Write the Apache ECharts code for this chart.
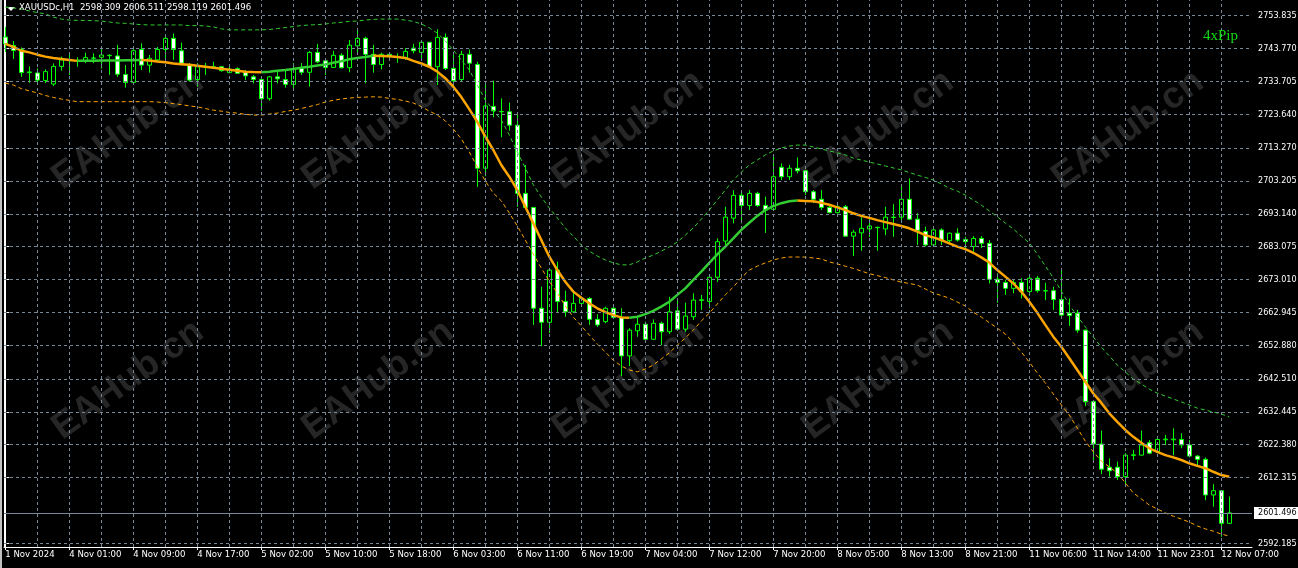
<!DOCTYPE html>
<html><head><meta charset="utf-8">
<script src="https://cdn.jsdelivr.net/npm/echarts@6/dist/echarts.min.js"></script>
<style>html,body{margin:0;padding:0;background:#000;}#c{width:1298px;height:568px;}</style>
</head><body><div id="c"></div>
<script>
const chartTitle = 'XAUUSDc,H1  2598.309 2606.511 2598.119 2601.496';
const brand = '4xPip';
const watermark = 'EAHub.cn';

// [open, high, low, close] per H1 bar
const candles = [
[2747.3,2750.4,2742.7,2745.2],[2744.7,2746.1,2740.6,2743.2],[2743.5,2744.1,2735.1,2736.4],[2736.4,2738.3,2733.3,2736.6],
[2736.3,2737.7,2733.1,2734.1],[2734.0,2737.4,2733.2,2736.7],[2732.9,2739.2,2732.3,2738.3],[2738.3,2741.3,2737.0,2740.3],
[2740.2,2742.1,2735.7,2740.3],[2740.0,2741.1,2738.2,2740.1],[2740.0,2742.5,2739.3,2741.0],[2740.8,2742.3,2739.3,2740.9],
[2741.1,2743.9,2737.7,2741.8],[2741.6,2742.0,2735.7,2741.7],[2741.5,2744.9,2735.1,2735.9],[2735.8,2738.7,2731.8,2733.4],
[2733.4,2743.9,2733.2,2743.1],[2743.5,2745.4,2737.2,2738.7],[2738.7,2741.8,2736.4,2740.8],[2740.3,2744.3,2739.7,2743.5],
[2743.5,2747.4,2740.5,2746.9],[2746.9,2748.4,2740.3,2743.5],[2743.1,2745.6,2738.7,2739.3],[2738.7,2739.3,2733.6,2734.1],
[2734.3,2739.3,2732.1,2738.2],[2738.2,2739.4,2735.7,2738.3],[2738.1,2739.7,2737.7,2738.2],[2738.2,2738.4,2736.7,2737.0],
[2736.4,2738.2,2736.2,2737.4],[2737.6,2738.0,2736.0,2736.2],[2736.4,2737.2,2734.1,2735.4],[2735.1,2735.7,2733.1,2734.3],
[2734.3,2734.5,2724.7,2728.4],[2728.4,2735.4,2727.8,2735.1],[2735.1,2737.0,2733.1,2734.5],[2734.3,2737.0,2731.8,2732.8],
[2732.8,2739.3,2731.4,2737.5],[2737.7,2739.3,2735.7,2736.5],[2736.5,2743.0,2732.1,2742.6],[2742.6,2745.2,2739.3,2739.7],
[2740.0,2740.5,2735.7,2738.0],[2738.0,2743.1,2737.8,2741.7],[2741.7,2742.3,2737.7,2737.9],[2737.9,2746.4,2736.5,2744.8],
[2744.6,2750.0,2742.3,2746.9],[2746.9,2747.4,2733.1,2742.0],[2742.0,2744.9,2736.4,2738.9],[2738.9,2742.5,2737.4,2742.0],
[2742.0,2742.3,2740.3,2741.3],[2741.2,2742.3,2739.4,2741.3],[2740.8,2743.9,2740.3,2742.9],[2743.9,2745.2,2742.3,2743.1],
[2742.6,2746.4,2740.3,2745.7],[2745.7,2745.8,2738.0,2738.2],[2738.2,2749.7,2732.6,2747.2],[2747.2,2748.4,2737.2,2737.7],
[2737.7,2742.3,2731.1,2733.9],[2734.3,2743.1,2733.8,2742.0],[2742.0,2743.5,2736.4,2739.3],[2738.9,2739.7,2701.4,2707.1],
[2707.1,2733.1,2704.7,2726.2],[2726.0,2733.9,2722.7,2724.7],[2724.4,2728.5,2716.6,2724.5],[2724.4,2727.2,2718.6,2720.3],
[2720.3,2723.4,2695.3,2699.4],[2699.4,2708.1,2695.0,2695.1],[2695.1,2695.2,2659.1,2664.2],[2664.2,2670.8,2652.6,2659.9],
[2659.9,2676.0,2656.7,2675.9],[2675.9,2678.5,2663.1,2666.3],[2666.3,2669.6,2661.6,2663.1],[2663.1,2669.8,2662.8,2665.7],
[2665.7,2667.6,2665.2,2667.2],[2667.2,2667.6,2659.1,2660.8],[2660.8,2662.4,2658.5,2659.1],[2660.1,2664.7,2659.6,2664.2],
[2664.2,2664.5,2661.1,2661.4],[2661.4,2664.2,2643.4,2649.6],[2649.6,2658.1,2646.5,2657.5],[2657.3,2661.6,2655.5,2659.3],
[2659.3,2660.1,2654.0,2654.7],[2654.7,2660.8,2654.5,2659.6],[2659.6,2660.1,2652.9,2657.0],[2657.0,2667.7,2656.3,2663.1],
[2663.4,2666.7,2657.3,2657.8],[2657.8,2665.9,2657.0,2661.8],[2661.6,2668.8,2660.6,2666.7],[2666.6,2668.3,2663.7,2666.8],
[2666.3,2674.1,2664.2,2673.7],[2673.7,2685.6,2672.3,2684.6],[2684.8,2695.3,2682.6,2692.1],[2691.8,2700.4,2690.2,2698.8],
[2698.8,2699.9,2690.2,2695.7],[2695.7,2700.4,2694.3,2699.4],[2699.4,2699.9,2695.3,2695.7],[2695.7,2698.4,2687.3,2694.3],
[2694.5,2710.6,2694.3,2704.5],[2707.4,2708.6,2703.5,2704.5],[2704.5,2708.1,2703.5,2707.1],[2707.1,2710.4,2705.5,2706.3],
[2706.3,2706.6,2698.9,2699.9],[2699.9,2700.4,2696.4,2697.6],[2697.6,2700.4,2694.3,2695.1],[2695.1,2696.1,2693.3,2693.5],
[2693.5,2695.8,2693.2,2695.3],[2695.3,2695.8,2686.1,2686.3],[2686.3,2688.2,2680.2,2687.5],[2687.3,2692.1,2681.8,2688.7],
[2688.5,2692.1,2686.1,2689.4],[2688.9,2689.2,2681.8,2689.0],[2688.5,2695.3,2686.6,2692.1],[2692.0,2696.1,2686.1,2692.1],
[2692.1,2701.7,2690.7,2697.6],[2697.6,2704.0,2691.2,2691.5],[2691.5,2693.3,2683.6,2688.0],[2687.7,2689.2,2683.1,2683.6],
[2683.6,2689.2,2683.3,2688.2],[2688.2,2688.7,2683.6,2684.9],[2684.9,2687.4,2684.1,2687.2],[2687.2,2688.7,2684.6,2685.1],
[2685.3,2686.1,2682.0,2684.6],[2683.1,2686.3,2681.5,2685.6],[2685.6,2686.3,2682.7,2684.1],[2684.1,2685.1,2671.8,2673.1],
[2673.1,2674.9,2665.9,2672.1],[2672.1,2672.9,2668.3,2670.3],[2670.3,2672.9,2668.8,2672.1],[2672.1,2673.4,2667.2,2669.3],
[2669.3,2674.4,2668.0,2673.4],[2673.4,2674.1,2669.0,2669.6],[2669.5,2672.0,2666.7,2669.6],[2669.6,2670.8,2663.7,2666.9],
[2666.9,2675.7,2661.8,2662.1],[2662.7,2667.2,2658.8,2662.0],[2662.7,2663.7,2656.7,2657.5],[2657.5,2657.7,2634.2,2635.6],
[2635.6,2635.9,2617.7,2622.6],[2622.6,2626.7,2613.4,2614.9],[2615.5,2618.2,2612.6,2614.4],[2615.5,2617.2,2611.6,2612.6],
[2612.6,2619.8,2610.3,2619.2],[2619.1,2620.8,2617.7,2619.3],[2619.2,2626.7,2619.1,2622.3],[2623.0,2623.8,2619.5,2619.8],
[2620.3,2624.4,2619.8,2624.0],[2623.9,2625.4,2622.3,2624.1],[2623.9,2627.4,2619.2,2624.1],[2624.0,2625.9,2621.3,2622.3],
[2622.3,2623.8,2618.5,2618.9],[2618.9,2619.2,2615.9,2617.9],[2617.9,2618.5,2605.4,2607.0],[2607.0,2610.3,2603.4,2608.3],
[2608.3,2608.5,2594.2,2598.3],[2598.309,2606.511,2598.119,2601.496]
];

const maLine = [
2745.2,2744.3,2743.1,2742.6,2741.9,2741.3,2740.9,2740.6,2740.3,2740.0,2740.03,2740.06,2740.09,2740.12,2740.15,2740.18,
2740.21,2740.24,2740.1,2739.8,2739.6,2739.2,2739.0,2738.8,2738.5,2738.2,2737.9,2737.6,2737.3,2737.0,2736.7,2736.6,
2736.55,2736.7,2737.0,2737.2,2737.5,2737.9,2738.2,2738.6,2738.9,2739.4,2739.9,2740.5,2740.9,2741.2,2741.55,2741.5,
2741.4,2741.2,2740.9,2740.0,2739.2,2738.2,2736.7,2734.7,2732.1,2728.9,2725.2,2721.3,2716.8,2712.7,2708.1,2704.5,
2700.4,2695.3,2690.2,2685.1,2680.0,2675.9,2672.3,2669.3,2667.4,2665.7,2664.2,2663.0,2662.1,2661.4,2661.3,2661.6,
2662.4,2663.4,2664.7,2666.2,2668.3,2670.3,2672.9,2675.4,2678.1,2680.7,2683.1,2685.6,2688.2,2690.4,2692.5,2694.3,
2695.5,2696.4,2697.0,2697.2,2697.1,2697.0,2696.5,2695.9,2695.1,2694.3,2693.3,2692.5,2691.9,2691.2,2690.6,2690.0,
2689.4,2688.7,2687.7,2686.6,2685.9,2685.1,2684.1,2683.1,2682.3,2681.2,2679.8,2678.2,2675.9,2673.9,2671.8,2669.3,
2666.2,2662.8,2659.1,2655.5,2652.4,2648.9,2645.3,2641.7,2638.1,2635.2,2632.0,2629.4,2626.9,2624.8,2623.0,2621.3,
2620.2,2619.2,2618.5,2617.7,2616.7,2615.9,2615.2,2614.1,2613.1,2612.6
];

const upperBand = [
2756.5,2756.2,2755.9,2755.3,2754.8,2754.4,2753.4,2752.8,2752.5,2752.4,2752.4,2752.3,2752.2,2751.9,2751.6,2751.5,
2751.3,2751.1,2751.0,2751.0,2751.0,2751.0,2751.0,2750.8,2750.8,2750.7,2750.4,2749.8,2749.5,2749.5,2749.5,2749.5,
2749.5,2749.6,2749.9,2750.2,2750.5,2750.8,2751.0,2751.1,2751.3,2751.6,2751.8,2752.1,2752.2,2752.5,2752.7,2752.8,
2752.8,2752.8,2752.5,2752.1,2751.3,2750.1,2748.5,2746.1,2743.3,2740.3,2737.2,2732.6,2728.0,2724.9,2721.9,2717.3,
2712.1,2707.2,2702.0,2698.3,2694.9,2691.9,2688.8,2686.3,2683.6,2681.7,2680.2,2679.0,2678.1,2677.5,2677.5,2678.4,
2679.6,2680.5,2681.7,2683.0,2684.5,2686.6,2688.8,2691.5,2694.3,2697.4,2700.4,2703.5,2705.9,2708.1,2709.6,2711.2,
2712.4,2713.3,2713.9,2714.2,2714.2,2713.6,2713.0,2712.4,2711.8,2711.2,2710.2,2709.6,2709.0,2708.4,2707.8,2707.2,
2706.6,2705.8,2705.0,2704.3,2703.5,2702.3,2701.0,2700.1,2698.9,2697.4,2695.8,2694.0,2692.2,2690.3,2688.5,2686.3,
2684.2,2680.8,2677.2,2673.5,2669.5,2665.2,2661.8,2658.5,2655.4,2652.3,2649.6,2646.8,2644.7,2642.5,2641.0,2639.4,
2638.2,2637.3,2636.4,2635.5,2634.6,2633.6,2633.0,2632.4,2631.8,2630.9
];

const lowerBand = [
2733.2,2732.6,2731.5,2730.8,2730.2,2729.4,2728.8,2728.3,2727.9,2727.5,2727.5,2727.5,2727.5,2727.5,2727.5,2727.5,
2727.5,2727.5,2727.5,2727.4,2727.2,2726.9,2726.6,2726.2,2725.9,2725.4,2724.9,2724.6,2724.2,2724.0,2723.6,2723.4,
2723.4,2723.7,2724.0,2724.5,2724.9,2725.4,2726.0,2726.6,2727.4,2727.9,2728.3,2728.6,2728.8,2728.9,2729.0,2728.9,
2728.5,2728.2,2727.7,2727.1,2726.0,2724.6,2723.4,2721.6,2719.1,2716.1,2712.1,2707.5,2703.2,2699.5,2697.1,2693.4,
2689.4,2685.1,2680.8,2676.5,2672.5,2668.9,2664.9,2661.5,2658.8,2656.0,2653.2,2650.8,2648.3,2646.5,2645.3,2644.7,
2645.6,2646.8,2648.7,2650.5,2652.9,2655.1,2657.5,2660.3,2662.7,2665.5,2668.3,2670.7,2673.5,2675.9,2677.1,2678.1,
2679.0,2679.6,2679.9,2679.9,2679.9,2679.6,2679.3,2678.4,2677.8,2677.1,2676.4,2675.6,2674.8,2674.2,2673.6,2672.9,
2672.2,2671.8,2671.3,2670.1,2668.9,2668.1,2667.3,2666.1,2664.9,2663.0,2661.5,2659.8,2658.1,2656.3,2653.6,2650.8,
2647.7,2644.4,2641.3,2637.9,2634.6,2631.5,2627.5,2623.5,2620.2,2617.4,2615.6,2613.7,2610.7,2607.6,2605.8,2603.9,
2602.7,2601.5,2600.5,2599.6,2598.7,2597.5,2596.6,2595.9,2595.0,2594.4
];

const priceTicks = [2753.835,2743.770,2733.705,2723.640,2713.270,2703.205,2693.140,2683.075,2673.010,
  2662.945,2652.880,2642.510,2632.445,2622.380,2612.315,2592.185];

const timeTickBars = [0,8,16,24,32,40,48,56,64,72,80,88,96,104,112,120,128,136,144,152];
const timeTickLabels = ['1 Nov 2024','4 Nov 01:00','4 Nov 09:00','4 Nov 17:00','5 Nov 02:00','5 Nov 10:00',
  '5 Nov 18:00','6 Nov 03:00','6 Nov 11:00','6 Nov 19:00','7 Nov 04:00','7 Nov 12:00','7 Nov 20:00',
  '8 Nov 05:00','8 Nov 13:00','8 Nov 21:00','11 Nov 06:00','11 Nov 14:00','11 Nov 23:01','12 Nov 07:00'];

// ---------- build ----------
const N = candles.length;
const lastClose = candles[N - 1][3];
const kData = candles.map((c, i) => [i, c[0], c[3], c[2], c[1]]);
const maUp = [], maDown = [];
for (let i = 0; i < N; i++) {
  const upPrev = i > 0 && maLine[i] > maLine[i - 1];
  const upNext = i < N - 1 && maLine[i + 1] > maLine[i];
  const dnPrev = i > 0 && maLine[i] <= maLine[i - 1];
  const dnNext = i < N - 1 && maLine[i + 1] <= maLine[i];
  maUp.push([i, (upPrev || upNext) ? maLine[i] : '-']);
  maDown.push([i, (dnPrev || dnNext) ? maLine[i] : '-']);
}
const vGrid = [];
for (let b = 4; b < N; b += 4) vGrid.push({ xAxis: b });
const hGrid = priceTicks.map(p => ({ yAxis: p }));

const FONT = '"DejaVu Sans Condensed", "Liberation Sans", sans-serif';
const GREEN = '#00ff00', MA_GREEN = '#32cd32', ORANGE = '#ffa500', GRID = '#778899';

const wm = [];
[130, 380].forEach(cy => {
  for (let k = 0; k < 5; k++) {
    wm.push({ type: 'text', x: 128 + 250 * k, y: cy, rotation: Math.PI * 36 / 180, z: 0, silent: true,
      style: { text: watermark, fill: '#262626', font: 'bold 37px "Liberation Sans", sans-serif', align: 'center', verticalAlign: 'middle' } });
  }
});

const chart = echarts.init(document.getElementById('c'), null, { renderer: 'canvas' });
chart.setOption({
  backgroundColor: '#000000',
  animation: false,
  title: { text: chartTitle, left: 19, top: 3, padding: 0, textStyle: { color: '#ffffff', fontSize: 9.5, fontWeight: 'normal', fontFamily: FONT } },
  grid: { left: 4, right: 46, top: 0, bottom: 21, containLabel: false, outerBoundsMode: 'none' },
  xAxis: {
    type: 'value', min: -0.1625, max: 155.8375,
    axisLine: { show: true, lineStyle: { color: '#ffffff', width: 1 } },
    axisTick: { show: true, customValues: timeTickBars, length: 3, lineStyle: { color: '#ffffff' } },
    axisLabel: { show: true, customValues: timeTickBars, color: '#ffffff', fontSize: 9.5, fontFamily: FONT, align: 'left', margin: 3,
      formatter: v => { const k = timeTickBars.indexOf(Math.round(v)); return k >= 0 ? timeTickLabels[k] : ''; } },
    splitLine: { show: false }
  },
  yAxis: {
    type: 'value', position: 'right', min: 2591.05, max: 2758.65, scale: true,
    axisLine: { show: true, lineStyle: { color: '#ffffff', width: 1 } },
    axisTick: { show: true, customValues: priceTicks, length: 4, lineStyle: { color: '#ffffff' } },
    axisLabel: { show: true, customValues: priceTicks, color: '#ffffff', fontSize: 9, fontFamily: FONT, margin: 6,
      formatter: v => v.toFixed(3) },
    splitLine: { show: false }
  },
  graphic: [
    { type: 'rect', shape: { x: 0, y: 0, width: 2, height: 568 }, style: { fill: '#c0c0c0' }, silent: true },
    { type: 'line', shape: { x1: 4.5, y1: 0, x2: 4.5, y2: 547 }, style: { stroke: '#ffffff', lineWidth: 1 }, silent: true },
    { type: 'polygon', shape: { points: [[7, 7], [15, 7], [11, 11]] }, style: { fill: '#ffffff' }, silent: true },
    { type: 'text', x: 1203, y: 29, silent: true, z: 10,
      style: { text: brand, fill: '#11dd11', font: '15px "Liberation Serif", serif' } },
    ...wm
  ],
  series: [
    { name: 'grid', type: 'line', data: [], z: 1, silent: true,
      markLine: { silent: true, symbol: ['none', 'none'], animation: false, label: { show: false },
        lineStyle: { color: GRID, type: [3, 3], width: 1 }, data: vGrid.concat(hGrid) } },
    { name: 'upper', type: 'line', data: upperBand.map((v, i) => [i, v]), symbol: 'none', silent: true, z: 3,
      lineStyle: { color: MA_GREEN, width: 1, type: [4, 3] } },
    { name: 'lower', type: 'line', data: lowerBand.map((v, i) => [i, v]), symbol: 'none', silent: true, z: 3,
      lineStyle: { color: ORANGE, width: 1, type: [4, 3] } },
    { name: 'price', type: 'candlestick', data: kData, barWidth: 4, z: 2, silent: true,
      encode: { x: 0, y: [1, 2, 3, 4] },
      itemStyle: { color: '#000000', color0: '#ffffff', borderColor: GREEN, borderColor0: GREEN, borderWidth: 1 },
      markLine: { silent: true, symbol: ['none', 'none'], animation: false,
        lineStyle: { color: GRID, type: 'solid', width: 1 },
        label: { show: true, position: 'end', distance: 2, formatter: () => lastClose.toFixed(3),
          backgroundColor: '#ffffff', color: '#000000', fontSize: 9, fontFamily: FONT, padding: [2, 4, 1, 4] },
        data: [{ yAxis: lastClose }] } },
    { name: 'maDown', type: 'line', data: maDown, symbol: 'none', silent: true, z: 4, connectNulls: false,
      lineStyle: { color: ORANGE, width: 2.5 } },
    { name: 'maUp', type: 'line', data: maUp, symbol: 'none', silent: true, z: 4, connectNulls: false,
      lineStyle: { color: MA_GREEN, width: 2.5 } }
  ]
});
</script>
</body></html>
